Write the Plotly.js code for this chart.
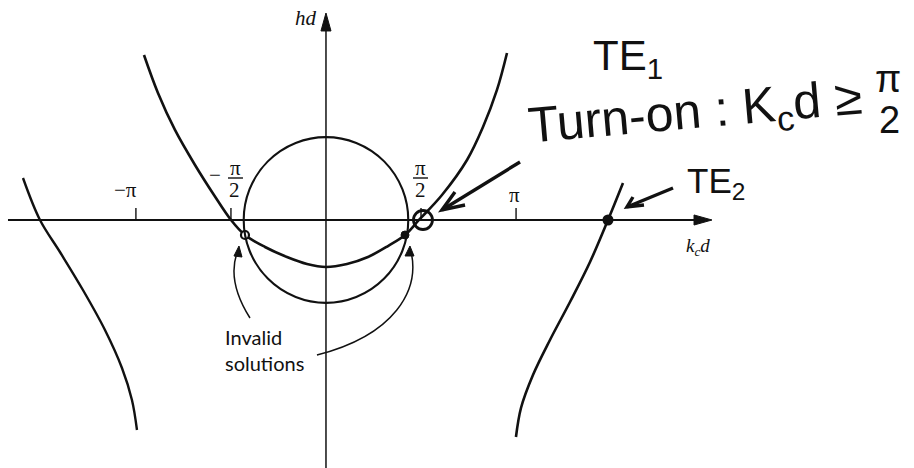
<!DOCTYPE html>
<html>
<head>
<meta charset="utf-8">
<script src="https://cdn.plot.ly/plotly-3.0.1.min.js"></script>
<style>
  html, body { margin: 0; padding: 0; background: #fff; }
  #chart { width: 914px; height: 468px; }
</style>
</head>
<body>
<div id="chart"></div>
<script>
// Graphical solution of the slab-guide TE dispersion relation:
// branches of hd = -(k_c d) cot(k_c d) against the circle (k_c d)^2 + (hd)^2 = R^2

// central branch (TE1 family)
const kdCenter = [-3.008, -2.777, -2.496, -2.165, -1.851, -1.570, -1.339, -1.008, -0.645, -0.314,
                  0.000, 0.347, 0.694, 1.025, 1.306, 1.537, 1.917, 2.331, 2.595, 2.826, 2.992];
const hdCenter = [2.727, 2.099, 1.488, 0.909, 0.413, 0.000, -0.248, -0.446, -0.612, -0.727,
                  -0.777, -0.727, -0.612, -0.430, -0.248, 0.000, 0.413, 0.992, 1.537, 2.149, 2.760];

// outer branches (TE2 family)
const kdLeft  = [-5.008, -4.727, -4.397, -4.017, -3.653, -3.372, -3.207, -3.124];
const hdLeft  = [0.694, 0.000, -0.529, -1.157, -1.818, -2.446, -2.975, -3.471];
const kdRight = [4.909, 4.661, 4.364, 4.033, 3.702, 3.421, 3.223, 3.140];
const hdRight = [0.612, 0.000, -0.694, -1.355, -1.983, -2.562, -3.107, -3.587];

// circle of radius R centred on the origin
const circleCenter = [0, 0];
const circleRadius = [1.36, 1.37];   // [along k_c d, along hd]

// intersections
const invalidKd = [-1.339, 1.306];
const invalidHd = [-0.248, -0.248];
const te1Kd = [1.603];
const te1Hd = [0];
const te2Kd = [4.661];
const te2Hd = [0];

// tick positions on the k_c d axis
const tickValues = [-Math.PI, -Math.PI / 2, Math.PI / 2, Math.PI];

const INK = '#111';
const serif = 'Liberation Serif, Times New Roman, serif';
const hand = 'Liberation Sans, Arial, sans-serif';

const curve = (x, y, w) => ({
  x, y, mode: 'lines', hoverinfo: 'skip',
  line: { color: INK, width: w, shape: 'spline', smoothing: 1 }
});

const traces = [
  curve(kdCenter, hdCenter, 2.6),
  curve(kdLeft, hdLeft, 2.4),
  curve(kdRight, hdRight, 2.6),
  { x: [invalidKd[0]], y: [invalidHd[0]], mode: 'markers', hoverinfo: 'skip',
    marker: { symbol: 'circle', size: 8, color: '#fff', line: { color: INK, width: 2.2 } } },
  { x: [invalidKd[1]], y: [invalidHd[1]], mode: 'markers', hoverinfo: 'skip',
    marker: { symbol: 'circle', size: 8, color: INK, line: { color: INK, width: 1 } } },
  { x: te1Kd, y: te1Hd, mode: 'markers', hoverinfo: 'skip',
    marker: { symbol: 'circle-open', size: 19, color: INK, line: { color: INK, width: 2.8 } } },
  { x: te2Kd, y: te2Hd, mode: 'markers', hoverinfo: 'skip',
    marker: { symbol: 'circle', size: 11, color: INK } }
];

const shapes = [];
const line = (x0, y0, x1, y1, w) => shapes.push({
  type: 'line', xref: 'x', yref: 'y', x0, y0, x1, y1, line: { color: INK, width: w }
});
const path = (d, w, fill) => shapes.push({
  type: 'path', xref: 'x', yref: 'y', path: d,
  line: { color: INK, width: w }, fillcolor: fill || 'rgba(0,0,0,0)'
});

// circle
shapes.push({
  type: 'circle', xref: 'x', yref: 'y',
  x0: circleCenter[0] - circleRadius[0], x1: circleCenter[0] + circleRadius[0],
  y0: circleCenter[1] - circleRadius[1], y1: circleCenter[1] + circleRadius[1],
  line: { color: INK, width: 2.1 }
});

// axes with arrowheads
line(-5.256, 0, 6.20, 0, 1.8);
line(0, -4.3, 0, 3.20, 1.5);
path('M 6.380 0 L 6.083 0.083 L 6.083 -0.083 Z', 1, INK);
path('M 0 3.421 L -0.083 3.124 L 0.083 3.124 Z', 1, INK);

// tick marks
tickValues.forEach(v => line(v, 0, v, 0.2, 1.4));

// fraction bars of the ±π/2 labels
line(-1.620, 0.694, -1.372, 0.694, 1.4);
line(1.438, 0.694, 1.686, 0.694, 1.4);

// curved pointers to the invalid solutions
path('M -1.256 -1.620 Q -1.653 -0.992 -1.455 -0.500', 1.5);
path('M -1.438 -0.430 L -1.521 -0.595 L -1.388 -0.612 Z', 1, INK);
path('M -0.149 -2.231 C 1.140 -1.901 1.554 -1.157 1.405 -0.520', 1.5);
path('M 1.388 -0.430 L 1.306 -0.595 L 1.455 -0.595 Z', 1, INK);

// pen-drawn arrows
line(3.207, 0.959, 1.917, 0.165, 3.4);
path('M 2.132 0.463 L 1.917 0.165 L 2.298 0.248', 3.4);
line(5.736, 0.529, 4.975, 0.215, 3.4);
path('M 5.074 0.380 L 4.975 0.215 L 5.256 0.248', 3.4);

const ann = (x, y, text, font, extra) => Object.assign({
  x, y, xref: 'x', yref: 'y', text, showarrow: false, font, xanchor: 'center', yanchor: 'middle'
}, extra || {});

const tickFont = { family: serif, size: 21, color: INK };
const annotations = [
  ann(-3.306, 0.496, '\u2212\u03c0', tickFont),
  ann(3.124, 0.420, '\u03c0', tickFont),
  ann(-1.840, 0.740, '\u2212', tickFont),
  ann(-1.488, 0.860, '\u03c0', tickFont),
  ann(-1.504, 0.500, '2', tickFont),
  ann(1.570, 0.860, '\u03c0', tickFont),
  ann(1.570, 0.500, '2', tickFont),
  ann(-0.331, 3.339, '<i>hd</i>', { family: serif, size: 21, color: INK }),
  ann(6.149, -0.446, '<i>k<sub>c</sub>d</i>', { family: serif, size: 19, color: INK }),
  ann(-1.702, -2.149, 'Invalid<br>solutions', { family: 'Lato, Noto Sans, sans-serif', size: 20, color: INK },
      { xanchor: 'left', align: 'left' }),
  ann(4.992, 2.661, 'TE<sub>1</sub>', { family: hand, size: 42, color: INK }),
  ann(6.100, 1.736, 'Turn-on : K<sub>c</sub>d \u2265', { family: hand, size: 50, color: INK }, { textangle: -5 }),
  ann(9.289, 2.330, '\u03c0', { family: hand, size: 38, color: INK }),
  ann(9.322, 1.660, '2', { family: hand, size: 38, color: INK }),
  ann(6.446, 0.612, 'TE<sub>2</sub>', { family: hand, size: 35, color: INK })
];

const layout = {
  width: 914, height: 468,
  margin: { l: 0, r: 0, t: 0, b: 0 },
  paper_bgcolor: '#fff', plot_bgcolor: '#fff',
  showlegend: false,
  xaxis: { range: [-5.388, 9.719], visible: false, fixedrange: true },
  yaxis: { range: [-4.099, 3.636], visible: false, fixedrange: true },
  shapes, annotations
};

Plotly.newPlot('chart', traces, layout, { staticPlot: true, displayModeBar: false });
</script>
</body>
</html>
